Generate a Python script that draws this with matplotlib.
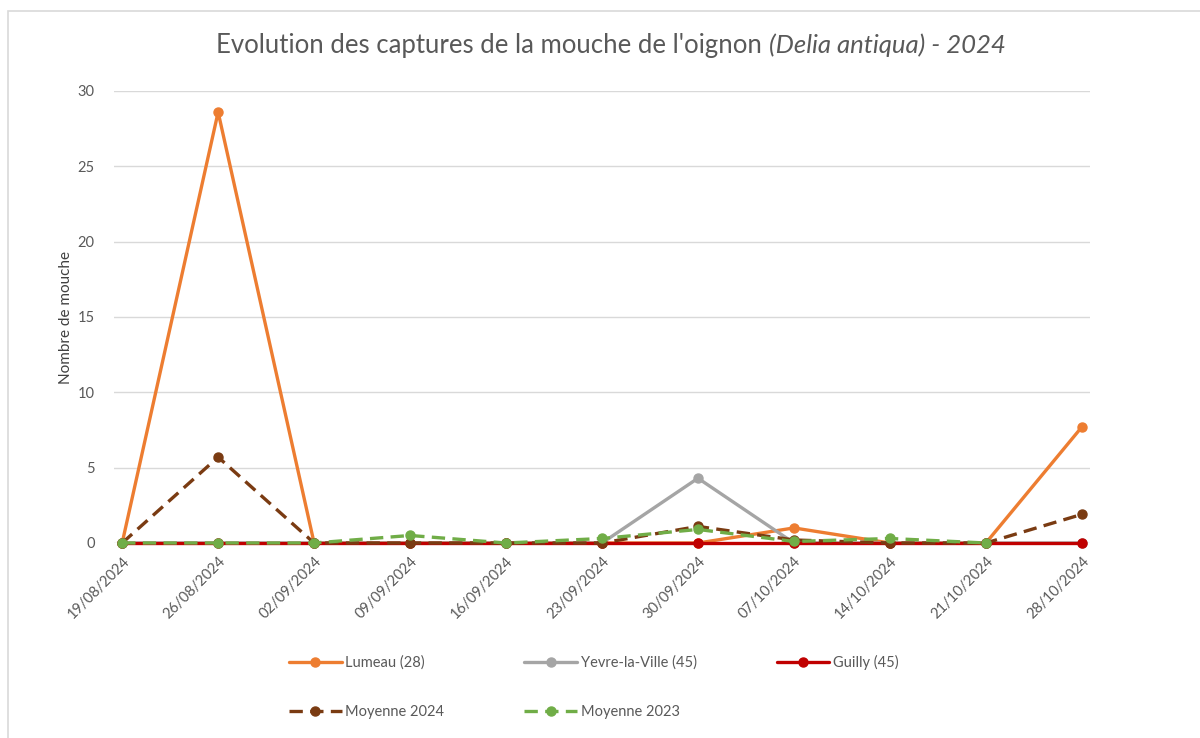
import numpy as np
import matplotlib.pyplot as plt
from matplotlib.patches import Rectangle

plt.rcParams['font.family'] = ['Lato', 'DejaVu Sans']

DATES = [
    '19/08/2024', '26/08/2024', '02/09/2024', '09/09/2024', '16/09/2024',
    '23/09/2024', '30/09/2024', '07/10/2024', '14/10/2024', '21/10/2024',
    '28/10/2024'
]
LUMEAU = [0, 28.6, 0, 0, 0, 0, 0, 1.0, 0, 0, 7.7]
YEVRE = [0, 0, 0, 0, 0, 0, 4.3, 0, 0, 0, 0]
GUILLY = [0, 0, 0, 0, 0, 0, 0, 0, 0, 0, 0]
MOY_2024 = [0, 5.7, 0, 0, 0, 0, 1.1, 0.2, 0, 0, 1.9]
MOY_2023 = [0, 0, 0, 0.5, 0, 0.3, 0.9, 0.1, 0.3, 0, np.nan]

SERIES = (
    ('Lumeau (28)', LUMEAU, '#ED7D31', '-'),
    ('Yevre-la-Ville (45)', YEVRE, '#A5A5A5', '-'),
    ('Guilly (45)', GUILLY, '#C00000', '-'),
    ('Moyenne 2024', MOY_2024, '#7A3B12', (0, (4, 2.2))),
    ('Moyenne 2023', MOY_2023, '#70AD47', (0, (4, 2.2))),
)
TXT = '#595959'

fig = plt.figure(figsize=(12, 7.38), dpi=100)
fig.patches.append(Rectangle(
    (8 / 1200, -0.1), 1.2, 1 - 11 / 738 + 0.1, transform=fig.transFigure,
    fill=False, ec='#D9D9D9', lw=1.2
))
ax = fig.add_axes([114 / 1200, 1 - 543 / 738, 976 / 1200, 452 / 738])

x = np.arange(len(DATES))
handles = {}
for (i, (lbl, vals, col, ls)) in enumerate(SERIES):
    (h,) = ax.plot(
        x, vals, color=col, ls=ls, lw=2.4, marker='o', ms=6.5,
        label=lbl, zorder=3 + i, solid_capstyle='round', clip_on=False
    )
    handles[lbl] = h

ax.set_xlim(-0.085, len(DATES) - 1 + 0.085)
ax.set_ylim(0, 30)
ax.set_yticks(range(0, 31, 5))
ax.set_xticks(x)
ax.set_xticklabels(DATES, rotation=45, ha='right', rotation_mode='anchor')
ax.tick_params(axis='both', colors=TXT, labelsize=10.5, length=0)
ax.tick_params(axis='x', pad=8)
ax.tick_params(axis='y', pad=14)
ax.grid(axis='y', color='#D9D9D9', lw=1)
ax.set_axisbelow(True)
for s in ax.spines.values():
    s.set_visible(False)

ax.set_ylabel('Nombre de mouche', color='#404040', fontsize=11, labelpad=3)

# title: upright part then italic part, centred together
TITLE_A = "Evolution des captures de la mouche de l'oignon "
TITLE_B = "(Delia antiqua) - 2024"
fig.canvas.draw()
r = fig.canvas.get_renderer()
ty = 1 - 45 / 738
ta = fig.text(0, ty, TITLE_A, fontsize=18.5, color=TXT, va='center')
tb = fig.text(0, ty, TITLE_B, fontsize=18.5, color=TXT, va='center',
              style='italic')
wa = ta.get_window_extent(r).width / fig.bbox.width
wb = tb.get_window_extent(r).width / fig.bbox.width
x0 = 611 / 1200 - (wa + wb) / 2
ta.set_x(x0)
tb.set_x(x0 + wa)

order = ['Lumeau (28)', 'Moyenne 2024', 'Yevre-la-Ville (45)',
         'Moyenne 2023', 'Guilly (45)']
leg = fig.legend(
    [handles[k] for k in order], order, ncol=3, frameon=False,
    loc='center left', bbox_to_anchor=(276 / 1200, 1 - 687 / 738),
    fontsize=10.5, handlelength=3.6, handletextpad=0.25,
    columnspacing=5.5, labelspacing=2.4
)
for t in leg.get_texts():
    t.set_color(TXT)

fig.savefig('out.png', dpi=100)
